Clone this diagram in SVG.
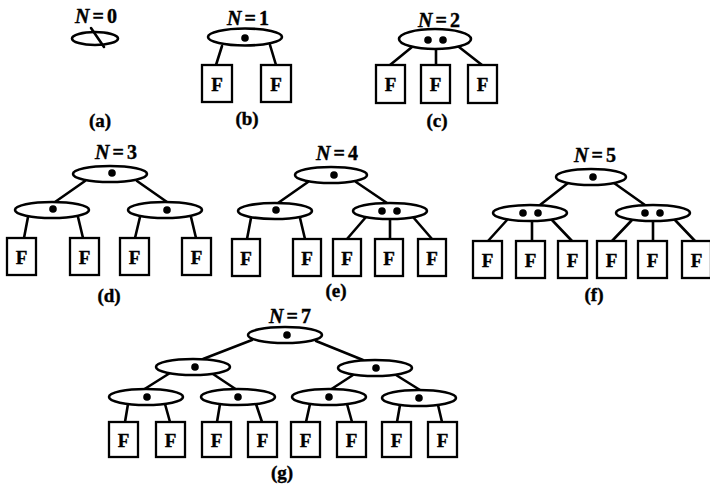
<svg xmlns="http://www.w3.org/2000/svg" width="710" height="485" viewBox="0 0 710 485">
<style>
  .e{fill:#fff;stroke:#000;stroke-width:2.6}
  .b{fill:#fff;stroke:#000;stroke-width:2.3}
  .d{fill:#000}
  .c line{stroke:#000;stroke-width:2.6;stroke-linecap:round}
  text{font-family:"Liberation Serif","DejaVu Serif",serif;font-weight:bold;fill:#000;stroke:#000;stroke-width:0.4}
  .f{font-size:19px;text-anchor:middle}
  .t{font-size:20px;text-anchor:middle}
  .l{font-size:19px;text-anchor:middle}
</style>
<rect width="710" height="485" fill="#fff"/>
<g id="connectors" class="c">
  <line x1="91" y1="28" x2="104" y2="47"/>
  <line x1="222" y1="46" x2="216" y2="65"/><line x1="270" y1="45" x2="276" y2="65"/>
  <line x1="412" y1="47" x2="390" y2="65"/><line x1="436" y1="49" x2="436" y2="65"/><line x1="459" y1="47" x2="482" y2="65"/>
  <line x1="85" y1="181" x2="55" y2="202"/><line x1="137" y1="181" x2="167" y2="202"/>
  <line x1="28" y1="217" x2="24" y2="238"/><line x1="78" y1="217" x2="83" y2="238"/>
  <line x1="140" y1="217" x2="135" y2="238"/><line x1="191" y1="217" x2="196" y2="238"/>
  <line x1="308" y1="182" x2="278" y2="203"/><line x1="356" y1="182" x2="387" y2="203"/>
  <line x1="251" y1="218" x2="247" y2="239"/><line x1="300" y1="218" x2="305" y2="239"/>
  <line x1="366" y1="217" x2="347" y2="239"/><line x1="390" y1="219" x2="390" y2="239"/><line x1="413" y1="217" x2="432" y2="239"/>
  <line x1="568" y1="183" x2="540" y2="205"/><line x1="614" y1="183" x2="645" y2="205"/>
  <line x1="507" y1="220" x2="488" y2="241"/><line x1="532" y1="221" x2="532" y2="241"/><line x1="552" y1="220" x2="572" y2="241"/>
  <line x1="632" y1="220" x2="612" y2="241"/><line x1="653" y1="221" x2="653" y2="241"/><line x1="675" y1="220" x2="695" y2="241"/>
  <line x1="252" y1="340" x2="203" y2="359"/><line x1="316" y1="341" x2="363" y2="360"/>
  <line x1="170" y1="373" x2="143" y2="390"/><line x1="213" y1="374" x2="237" y2="390"/>
  <line x1="353" y1="375" x2="330" y2="390"/><line x1="396" y1="375" x2="420" y2="390"/>
  <line x1="128" y1="404" x2="125" y2="422"/><line x1="165" y1="404" x2="170" y2="422"/>
  <line x1="220" y1="404" x2="217" y2="422"/><line x1="256" y1="404" x2="262" y2="422"/>
  <line x1="310" y1="404" x2="306" y2="422"/><line x1="347" y1="404" x2="352" y2="422"/>
  <line x1="400" y1="405" x2="397" y2="422"/><line x1="438" y1="405" x2="442" y2="422"/>
</g>
<!-- (a) -->
<g id="a-root"><ellipse class="e" cx="95" cy="38.5" rx="23" ry="6.5" style="fill:none"/></g>
<!-- (b) -->
<g id="b-root"><ellipse class="e" cx="245" cy="37" rx="37" ry="8.5"/><circle class="d" cx="245" cy="38" r="3.8"/></g>
<g id="b-f1"><rect class="b" x="202" y="65" width="30" height="37"/><text class="f" x="217" y="91">F</text></g>
<g id="b-f2"><rect class="b" x="261" y="65" width="30" height="37"/><text class="f" x="276" y="91">F</text></g>
<!-- (c) -->
<g id="c-root"><ellipse class="e" cx="435" cy="39" rx="36" ry="10"/><circle class="d" cx="428" cy="40" r="3.8"/><circle class="d" cx="443" cy="40" r="3.8"/></g>
<g id="c-f1"><rect class="b" x="376" y="65" width="29" height="38"/><text class="f" x="390.5" y="91">F</text></g>
<g id="c-f2"><rect class="b" x="421" y="65" width="29" height="38"/><text class="f" x="435.5" y="91">F</text></g>
<g id="c-f3"><rect class="b" x="468" y="65" width="29" height="38"/><text class="f" x="482.5" y="91">F</text></g>
<!-- (d) -->
<g id="d-root"><ellipse class="e" cx="110" cy="174" rx="37" ry="8"/><circle class="d" cx="112" cy="173" r="3.8"/></g>
<g id="d-l"><ellipse class="e" cx="52" cy="210" rx="37" ry="8"/><circle class="d" cx="53" cy="209" r="3.8"/></g>
<g id="d-r"><ellipse class="e" cx="165" cy="210" rx="37" ry="8"/><circle class="d" cx="167" cy="210" r="3.8"/></g>
<g id="d-f1"><rect class="b" x="7" y="238" width="29" height="37"/><text class="f" x="21.5" y="264">F</text></g>
<g id="d-f2"><rect class="b" x="70" y="238" width="29" height="37"/><text class="f" x="84.5" y="264">F</text></g>
<g id="d-f3"><rect class="b" x="120" y="238" width="29" height="37"/><text class="f" x="134.5" y="264">F</text></g>
<g id="d-f4"><rect class="b" x="182" y="238" width="29" height="37"/><text class="f" x="196.5" y="264">F</text></g>
<!-- (e) -->
<g id="e-root"><ellipse class="e" cx="331" cy="175" rx="36" ry="8"/><circle class="d" cx="334" cy="175" r="3.8"/></g>
<g id="e-l"><ellipse class="e" cx="275" cy="211" rx="37" ry="8"/><circle class="d" cx="276" cy="210" r="3.8"/></g>
<g id="e-r"><ellipse class="e" cx="390" cy="211" rx="37" ry="8"/><circle class="d" cx="382" cy="211" r="3.8"/><circle class="d" cx="397" cy="211" r="3.8"/></g>
<g id="e-f1"><rect class="b" x="232" y="239" width="28" height="37"/><text class="f" x="246" y="265">F</text></g>
<g id="e-f2"><rect class="b" x="293" y="239" width="28" height="37"/><text class="f" x="307" y="265">F</text></g>
<g id="e-f3"><rect class="b" x="333" y="239" width="28" height="37"/><text class="f" x="347" y="265">F</text></g>
<g id="e-f4"><rect class="b" x="375" y="239" width="28" height="37"/><text class="f" x="389" y="265">F</text></g>
<g id="e-f5"><rect class="b" x="418" y="239" width="28" height="37"/><text class="f" x="432" y="265">F</text></g>
<!-- (f) -->
<g id="f-root"><ellipse class="e" cx="591" cy="177" rx="35" ry="8"/><circle class="d" cx="593" cy="177" r="3.8"/></g>
<g id="f-l"><ellipse class="e" cx="530" cy="213" rx="37" ry="8"/><circle class="d" cx="523" cy="213" r="3.8"/><circle class="d" cx="538" cy="213" r="3.8"/></g>
<g id="f-r"><ellipse class="e" cx="653" cy="213" rx="37" ry="8"/><circle class="d" cx="645" cy="213" r="3.8"/><circle class="d" cx="660" cy="213" r="3.8"/></g>
<g id="f-f1"><rect class="b" x="473" y="241" width="29" height="37"/><text class="f" x="487.5" y="267">F</text></g>
<g id="f-f2"><rect class="b" x="516" y="241" width="29" height="37"/><text class="f" x="530.5" y="267">F</text></g>
<g id="f-f3"><rect class="b" x="558" y="241" width="29" height="37"/><text class="f" x="572.5" y="267">F</text></g>
<g id="f-f4"><rect class="b" x="597" y="241" width="29" height="37"/><text class="f" x="611.5" y="267">F</text></g>
<g id="f-f5"><rect class="b" x="638" y="241" width="29" height="37"/><text class="f" x="652.5" y="267">F</text></g>
<g id="f-f6"><rect class="b" x="682" y="241" width="29" height="37"/><text class="f" x="696.5" y="267">F</text></g>
<!-- (g) -->
<g id="g-root"><ellipse class="e" cx="285" cy="335" rx="37" ry="8"/><circle class="d" cx="287" cy="335" r="3.8"/></g>
<g id="g-l"><ellipse class="e" cx="193" cy="367" rx="37" ry="8"/><circle class="d" cx="195" cy="367" r="3.8"/></g>
<g id="g-r"><ellipse class="e" cx="375" cy="368" rx="37" ry="8"/><circle class="d" cx="376" cy="368" r="3.8"/></g>
<g id="g-ll"><ellipse class="e" cx="146" cy="397" rx="37" ry="8"/><circle class="d" cx="147" cy="397" r="3.8"/></g>
<g id="g-lr"><ellipse class="e" cx="238" cy="397" rx="37" ry="8"/><circle class="d" cx="238" cy="397" r="3.8"/></g>
<g id="g-rl"><ellipse class="e" cx="329" cy="397" rx="37" ry="8"/><circle class="d" cx="329" cy="397" r="3.8"/></g>
<g id="g-rr"><ellipse class="e" cx="419" cy="398" rx="37" ry="8"/><circle class="d" cx="419" cy="398" r="3.8"/></g>
<g id="g-f1"><rect class="b" x="109" y="422" width="29" height="35"/><text class="f" x="123.5" y="447">F</text></g>
<g id="g-f2"><rect class="b" x="156" y="422" width="29" height="35"/><text class="f" x="170.5" y="447">F</text></g>
<g id="g-f3"><rect class="b" x="202" y="422" width="29" height="35"/><text class="f" x="216.5" y="447">F</text></g>
<g id="g-f4"><rect class="b" x="248" y="422" width="29" height="35"/><text class="f" x="262.5" y="447">F</text></g>
<g id="g-f5"><rect class="b" x="291" y="422" width="29" height="35"/><text class="f" x="305.5" y="447">F</text></g>
<g id="g-f6"><rect class="b" x="337" y="422" width="29" height="35"/><text class="f" x="351.5" y="447">F</text></g>
<g id="g-f7"><rect class="b" x="382" y="422" width="29" height="35"/><text class="f" x="396.5" y="447">F</text></g>
<g id="g-f8"><rect class="b" x="428" y="422" width="29" height="35"/><text class="f" x="442.5" y="447">F</text></g>
<g id="titles">
  <text class="t" x="96" y="23" textLength="42" lengthAdjust="spacing"><tspan font-style="italic">N</tspan>=0</text>
  <text class="t" x="248" y="25" textLength="42" lengthAdjust="spacing"><tspan font-style="italic">N</tspan>=1</text>
  <text class="t" x="439" y="27" textLength="42" lengthAdjust="spacing"><tspan font-style="italic">N</tspan>=2</text>
  <text class="t" x="116" y="159" textLength="42" lengthAdjust="spacing"><tspan font-style="italic">N</tspan>=3</text>
  <text class="t" x="337" y="160" textLength="42" lengthAdjust="spacing"><tspan font-style="italic">N</tspan>=4</text>
  <text class="t" x="595" y="162" textLength="42" lengthAdjust="spacing"><tspan font-style="italic">N</tspan>=5</text>
  <text class="t" x="290" y="323" textLength="42" lengthAdjust="spacing"><tspan font-style="italic">N</tspan>=7</text>
</g>
<g id="captions">
  <text class="l" x="100" y="127">(a)</text>
  <text class="l" x="247" y="125">(b)</text>
  <text class="l" x="437" y="127">(c)</text>
  <text class="l" x="109" y="302">(d)</text>
  <text class="l" x="336" y="297">(e)</text>
  <text class="l" x="594" y="301">(f)</text>
  <text class="l" x="282" y="479">(g)</text>
</g>
</svg>
